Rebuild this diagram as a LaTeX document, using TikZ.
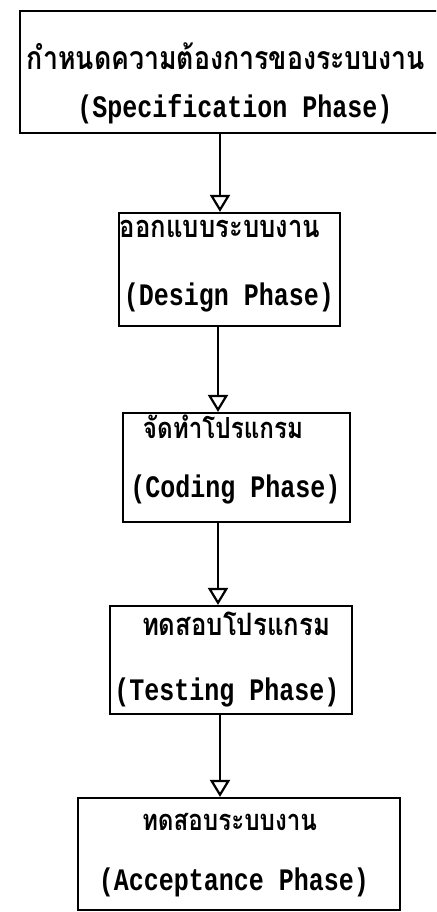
\documentclass[tikz,border=0pt]{standalone}
\usepackage{fontspec}
\usetikzlibrary{arrows.meta}
\newfontfamily\thaifont[Script=Thai]{Loma}
\setmonofont{Liberation Mono}
\newcommand{\latxt}[1]{\scalebox{1}[1.25]{#1}}
\newcommand{\thtxt}[2]{\scalebox{1}[1.2]{\resizebox{#1}{!}{\thaifont\bfseries #2}}}
\begin{document}
\begin{tikzpicture}[x=1pt,y=-1pt,
  box/.style={draw,line width=2.2pt,inner sep=0pt,anchor=center},
  lat/.style={inner sep=0pt,anchor=base,font=\ttfamily\bfseries\fontsize{25}{25}\selectfont},
  tha/.style={inner sep=0pt,anchor=base},
  flow/.style={line width=2pt,-{Triangle[open,width=20pt,length=17pt,fill=white,line width=2.2pt]}}]
\useasboundingbox (0,0) rectangle (436,912);
\clip (0,0) rectangle (436,912);
\fill[white] (0,0) rectangle (436,912);
% boxes
\node[box,minimum width=420pt,minimum height=122pt] (b1) at (230,72) {};
\node[box,minimum width=221pt,minimum height=113pt] (b2) at (229.5,269.5) {};
\node[box,minimum width=227pt,minimum height=109pt] (b3) at (236.5,467.5) {};
\node[box,minimum width=242pt,minimum height=108pt] (b4) at (231,660) {};
\node[box,minimum width=322pt,minimum height=112pt] (b5) at (239,854) {};
% texts
\node[tha] (t1) at (226,70) {\thtxt{398pt}{กำหนดความต้องการของระบบงาน}};
\node[lat] (l1) at (235,118) {\latxt{(Specification Phase)}};
\node[tha] (t2) at (220,237) {\thtxt{200pt}{ออกแบบระบบงาน}};
\node[lat] (l2) at (229,305) {\latxt{(Design Phase)}};
\node[tha] (t3) at (223,438) {\thtxt{160pt}{จัดทำโปรแกรม}};
\node[lat] (l3) at (235.5,497) {\latxt{(Coding Phase)}};
\node[tha] (t4) at (236,635) {\thtxt{188pt}{ทดสอบโปรแกรม}};
\node[lat] (l4) at (227,700) {\latxt{(Testing Phase)}};
\node[tha] (t5) at (229.5,830) {\thtxt{175pt}{ทดสอบระบบงาน}};
\node[lat] (l5) at (234,890) {\latxt{(Acceptance Phase)}};
% connectors
\coordinate (x1) at (220,0);
\coordinate (x2) at (218,0);
\coordinate (x3) at (218,0);
\coordinate (x4) at (220,0);
\draw[flow] (b1.south -| x1) -- (b2.north -| x1);
\draw[flow] (b2.south -| x2) -- (b3.north -| x2);
\draw[flow] (b3.south -| x3) -- (b4.north -| x3);
\draw[flow] (b4.south -| x4) -- (b5.north -| x4);
\end{tikzpicture}
\end{document}
